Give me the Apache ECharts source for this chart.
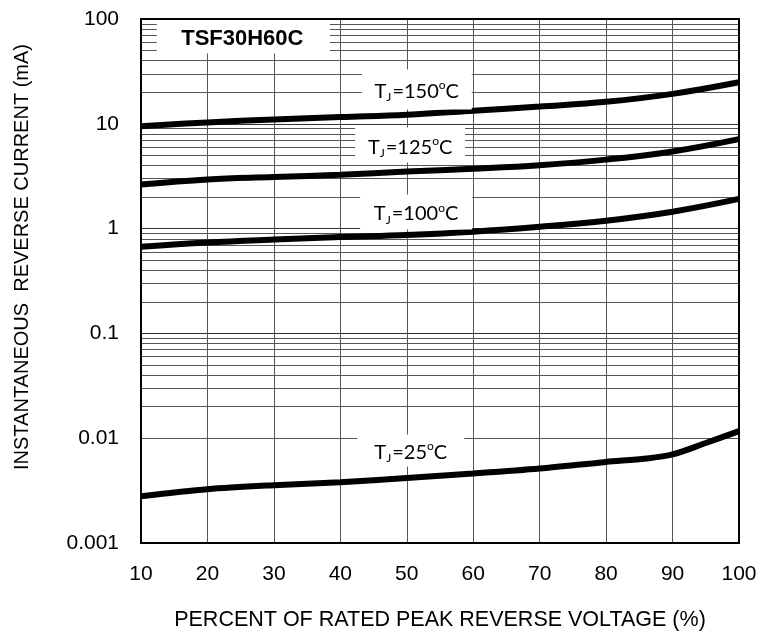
<!DOCTYPE html>
<html>
<head>
<meta charset="utf-8">
<script src="https://cdn.jsdelivr.net/npm/echarts@6/dist/echarts.min.js"></script>
<style>html,body{margin:0;padding:0;background:#fff}#c{width:762px;height:639px}</style>
</head>
<body>
<div id="c"></div>
<script>
// ---- data ----
const voltagePct = [10, 20, 30, 40, 50, 60, 70, 80, 90, 100];
const tj150 = [9.5, 10.3, 11.0, 11.6, 12.2, 13.3, 14.6, 16.2, 19.3, 24.9];
const tj125 = [2.63, 2.94, 3.1, 3.27, 3.5, 3.72, 4.02, 4.55, 5.45, 7.15];
const tj100 = [0.67, 0.735, 0.785, 0.83, 0.87, 0.935, 1.04, 1.19, 1.45, 1.92];
const x25 = [10, 20, 30, 40, 50, 60, 70, 80, 86, 90, 95, 100];
const tj25 = [0.00279, 0.00326, 0.00356, 0.0038, 0.00418, 0.0046, 0.00513, 0.00594, 0.0064, 0.0070, 0.0090, 0.0117];
const yTickLabels = ['0.001', '0.01', '0.1', '1', '10', '100'];
const xTickLabels = ['10', '20', '30', '40', '50', '60', '70', '80', '90', '100'];
const decades = [0.001, 0.01, 0.1, 1, 10];
const minorMultipliers = [2, 3, 4, 5, 6, 7, 8, 9];
const chartTitle = 'TSF30H60C';
const xTitle = 'PERCENT OF RATED PEAK REVERSE VOLTAGE (%)';
const yTitle = 'INSTANTANEOUS  REVERSE CURRENT (mA)';
// label anchor points (data space)
const labelPos = {'150': [51.5, 21.2], '125': [50.5, 6.26], '100': [51.4, 1.44], '25': [50.6, 0.00762]};
const titlePos = [25.4, 68.7];

const minorLines = [];
decades.forEach(d => minorMultipliers.forEach(m => minorLines.push({yAxis: d * m})));

function pairs(xs, ys) { return xs.map((x, i) => [x, ys[i]]); }

const rich = {
  t: {fontFamily: 'Lato', fontSize: 20, color: '#000', lineHeight: 24},
  s: {fontFamily: 'Lato', fontSize: 12, color: '#000', lineHeight: 24, verticalAlign: 'bottom', padding: [0, 1, 0, 0]},
  o: {fontFamily: 'Lato', fontSize: 12, color: '#000', lineHeight: 24, verticalAlign: 'top'}
};
function tjLabel(name, size) {
  return {
    coord: labelPos[name],
    symbol: 'rect',
    symbolSize: size,
    itemStyle: {color: '#fff'},
    label: {show: true, position: 'inside', offset: [0, 2], formatter: '{t|T}{s|J}{t|=' + name + '}{o|o}{t|C}', rich: rich}
  };
}
const boxSizes = {'150': [110, 40], '125': [110, 35], '100': [112, 35], '25': [107, 32]};

function curve(name, data, extra) {
  return Object.assign({
    type: 'line', name: name, data: data, smooth: 0.4, showSymbol: false, symbol: 'none', z: 3,
    lineStyle: {color: '#000', width: 6},
    markPoint: {z: 6, silent: true, data: [tjLabel(name, boxSizes[name])]}
  }, extra || {});
}

const chart = echarts.init(document.getElementById('c'));
chart.setOption({
  animation: false,
  backgroundColor: '#fff',
  grid: {left: 141, right: 23, top: 19, bottom: 96, show: true, borderColor: '#000', borderWidth: 2, z: 7, backgroundColor: 'transparent'},
  xAxis: {
    type: 'value', min: 10, max: 100, interval: 10,
    axisLine: {show: true, lineStyle: {color: '#000', width: 2}},
    axisTick: {show: false},
    axisLabel: {margin: 21, fontFamily: 'Liberation Sans', fontSize: 21, color: '#000',
      formatter: v => xTickLabels[Math.round((v - 10) / 10)]},
    splitLine: {show: true, lineStyle: {color: '#555', width: 1}},
    name: xTitle, nameLocation: 'middle', nameGap: 66,
    nameTextStyle: {fontFamily: 'Liberation Sans', fontSize: 21.5, color: '#000'}
  },
  yAxis: {
    type: 'log', logBase: 10, min: 0.001, max: 100,
    axisLine: {show: true, lineStyle: {color: '#000', width: 2}},
    axisTick: {show: false},
    axisLabel: {margin: 22, fontFamily: 'Liberation Sans', fontSize: 21, color: '#000',
      formatter: v => yTickLabels[Math.round(Math.log10(v)) + 3]},
    splitLine: {show: true, lineStyle: {color: '#333', width: 1}},
    name: yTitle, nameLocation: 'middle', nameGap: 109,
    nameTextStyle: {fontFamily: 'Liberation Sans', fontSize: 20, color: '#000', padding: [0, 0, 0, 48]}
  },
  series: [
    curve('150', pairs(voltagePct, tj150), {
      markLine: {z: 1, silent: true, symbol: 'none', animation: false, label: {show: false},
        lineStyle: {color: '#555', width: 1, type: 'solid'}, data: minorLines}
    }),
    curve('125', pairs(voltagePct, tj125)),
    curve('100', pairs(voltagePct, tj100)),
    curve('25', pairs(x25, tj25), {smooth: 0.3}),
    {
      type: 'scatter', data: [], z: 6,
      markPoint: {z: 6, silent: true, data: [{
        coord: titlePos, symbol: 'rect', symbolSize: [173, 35], itemStyle: {color: '#fff'},
        label: {show: true, position: 'inside', formatter: chartTitle, offset: [-1, 3],
          fontFamily: 'Liberation Sans', fontWeight: 'bold', fontSize: 22, color: '#000'}
      }]}
    }
  ]
});
</script>
</body>
</html>
